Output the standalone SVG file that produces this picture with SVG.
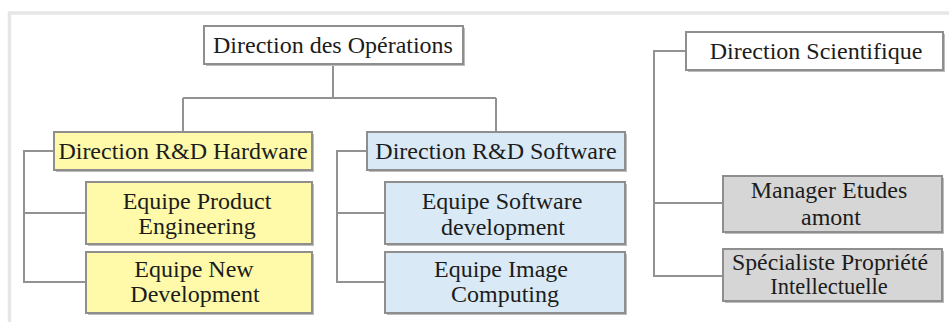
<svg xmlns="http://www.w3.org/2000/svg" width="949" height="322" viewBox="0 0 949 322">
<style>
.box{stroke:#8e8e8e;stroke-width:2}
.w{fill:#ffffff}
.y{fill:#fefaa9}
.b{fill:#d9eaf6}
.g{fill:#d6d6d6}
.sh{fill:#bcbcbc}
.c{fill:none;stroke:#929292;stroke-width:2}
text{font-family:"Liberation Serif","Times New Roman",serif;font-size:24px;fill:#1c1c1c;text-anchor:middle}
.s{font-size:22.5px}
</style>
<rect width="949" height="322" fill="#ffffff"/>
<path d="M9.5 322 V13 H949" fill="none" stroke="#e6e6e6" stroke-width="3.5"/>
<g id="connectors" class="c">
<path d="M333 64 V98 M183 98 H496 M183 98 V132 M496 98 V132"/>
<path d="M54 151 H24 V282 H86 M24 213 H86"/>
<path d="M367 151 H337 V282 H385 M337 213 H385"/>
<path d="M686 51 H654 V276 H723 M654 203 H723"/>
</g>
<g id="n-operations">
<rect class="sh" x="206" y="28" width="259" height="38"/>
<rect class="box w" x="204" y="26" width="259" height="38"/>
<text x="333" y="53">Direction des Opérations</text>
</g>
<g id="n-hardware">
<rect class="sh" x="56" y="134" width="258" height="38"/>
<rect class="box y" x="54" y="132" width="258" height="38"/>
<text x="183" y="159">Direction R&amp;D Hardware</text>
</g>
<g id="n-product">
<rect class="sh" x="88" y="184" width="226" height="62"/>
<rect class="box y" x="86" y="182" width="226" height="62"/>
<text x="197" y="209">Equipe Product</text>
<text x="197" y="234">Engineering</text>
</g>
<g id="n-newdev">
<rect class="sh" x="88" y="254" width="226" height="61"/>
<rect class="box y" x="86" y="252" width="226" height="61"/>
<text x="194" y="277">Equipe New</text>
<text x="195" y="302">Development</text>
</g>
<g id="n-software">
<rect class="sh" x="369" y="134" width="258" height="38"/>
<rect class="box b" x="367" y="132" width="258" height="38"/>
<text x="496" y="159">Direction R&amp;D Software</text>
</g>
<g id="n-softdev">
<rect class="sh" x="387" y="184" width="240" height="62"/>
<rect class="box b" x="385" y="182" width="240" height="62"/>
<text x="502" y="209">Equipe Software</text>
<text x="503" y="235">development</text>
</g>
<g id="n-image">
<rect class="sh" x="387" y="254" width="240" height="61"/>
<rect class="box b" x="385" y="252" width="240" height="61"/>
<text x="501" y="277">Equipe Image</text>
<text x="505" y="302">Computing</text>
</g>
<g id="n-scientifique">
<rect class="sh" x="688" y="34" width="257" height="38"/>
<rect class="box w" x="686" y="32" width="257" height="38"/>
<text x="816" y="59">Direction Scientifique</text>
</g>
<g id="n-manager">
<rect class="sh" x="725" y="178" width="219" height="56"/>
<rect class="box g" x="723" y="176" width="219" height="56"/>
<text x="829" y="198">Manager Etudes</text>
<text x="831" y="225">amont</text>
</g>
<g id="n-specialiste">
<rect class="sh" x="725" y="251" width="219" height="52"/>
<rect class="box g" x="723" y="249" width="219" height="52"/>
<text class="s" x="830" y="270" textLength="196" lengthAdjust="spacingAndGlyphs">Spécialiste Propriété</text>
<text class="s" x="829" y="294">Intellectuelle</text>
</g>
</svg>
